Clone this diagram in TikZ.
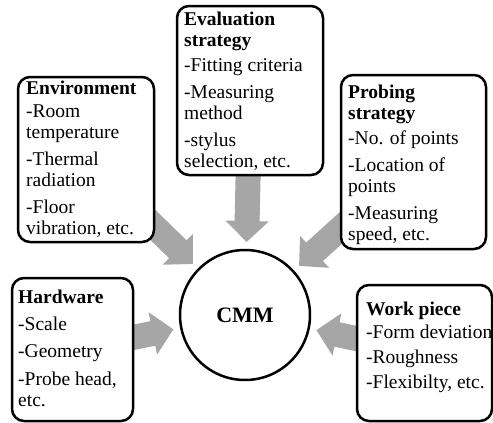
\documentclass[tikz,border=0pt]{standalone}
\usepackage{fontspec}
\setmainfont{Liberation Serif}
\usetikzlibrary{arrows.meta,backgrounds}
\definecolor{arrowgray}{RGB}{166,166,166}
\begin{document}
\begin{tikzpicture}[x=1pt,y=-1pt,
  factor/.style={draw=black, line width=2.5pt, rounded corners=12pt, fill=white,
    outer sep=0pt, inner sep=0pt, anchor=north west},
  factortext/.style={anchor=north west, inner sep=0pt, align=left,
    font=\fontsize{19.5}{21}\selectfont},
  hub/.style={circle, draw=black, line width=2.5pt, fill=white, minimum size=130pt,
    inner sep=0pt, outer sep=0pt, font=\fontsize{22}{24}\selectfont\bfseries},
  influence/.style={draw=arrowgray, line width=25pt,
    -{Triangle[width=42pt,length=21pt]}, shorten >=8pt}
]
\useasboundingbox (0,0) rectangle (493,423);

% central machine
\node[hub] (cmm) at (245,315) {CMM};

% influence boxes
\node[factor, minimum width=136pt, minimum height=165pt] (env)   at (18,77)  {};
\node[factor, minimum width=146pt, minimum height=169pt] (eval)  at (177,6)  {};
\node[factor, minimum width=145pt, minimum height=174pt] (probe) at (341,75) {};
\node[factor, minimum width=121pt, minimum height=143pt] (hw)    at (12,278) {};
\node[factor, minimum width=135pt, minimum height=136pt] (work)  at (357,285) {};

% box texts
\node[factortext] (envtext) at (26,81)
  {\textbf{Environment}\\[2pt] -Room\\ temperature\\[6pt] -Thermal\\ radiation\\[6pt] -Floor\\ vibration, etc.};
\node[factortext] (evaltext) at (184,12)
  {\textbf{Evaluation}\\ \textbf{strategy}\\[4pt] -Fitting criteria\\[6pt] -Measuring\\ method\\[6pt] -stylus\\ selection, etc.};
\node[factortext] (probetext) at (348,85)
  {\textbf{Probing}\\ \textbf{strategy}\\[4pt] -No. of points\\[6pt] -Location of\\ points\\[6pt] -Measuring\\ speed, etc.};
\node[factortext] (hwtext) at (18,290)
  {\textbf{Hardware}\\[6pt] -Scale\\[6pt] -Geometry\\[7pt] -Probe head,\\ etc.};
\node[factortext] (worktext) at (366,302)
  {\textbf{Work piece}\\[2pt] -Form deviation\\[4pt] -Roughness\\[4pt] -Flexibilty, etc.};

% block arrows towards the machine, behind the boxes
\begin{scope}[on background layer]
  \draw[influence] (env.center)   -- (cmm);
  \draw[influence] (eval.center)  -- (cmm);
  \draw[influence] (probe.center) -- (cmm);
  \draw[influence] (hw.center)    -- (cmm);
  \draw[influence] (work.center)  -- (cmm);
\end{scope}
\end{tikzpicture}
\end{document}
